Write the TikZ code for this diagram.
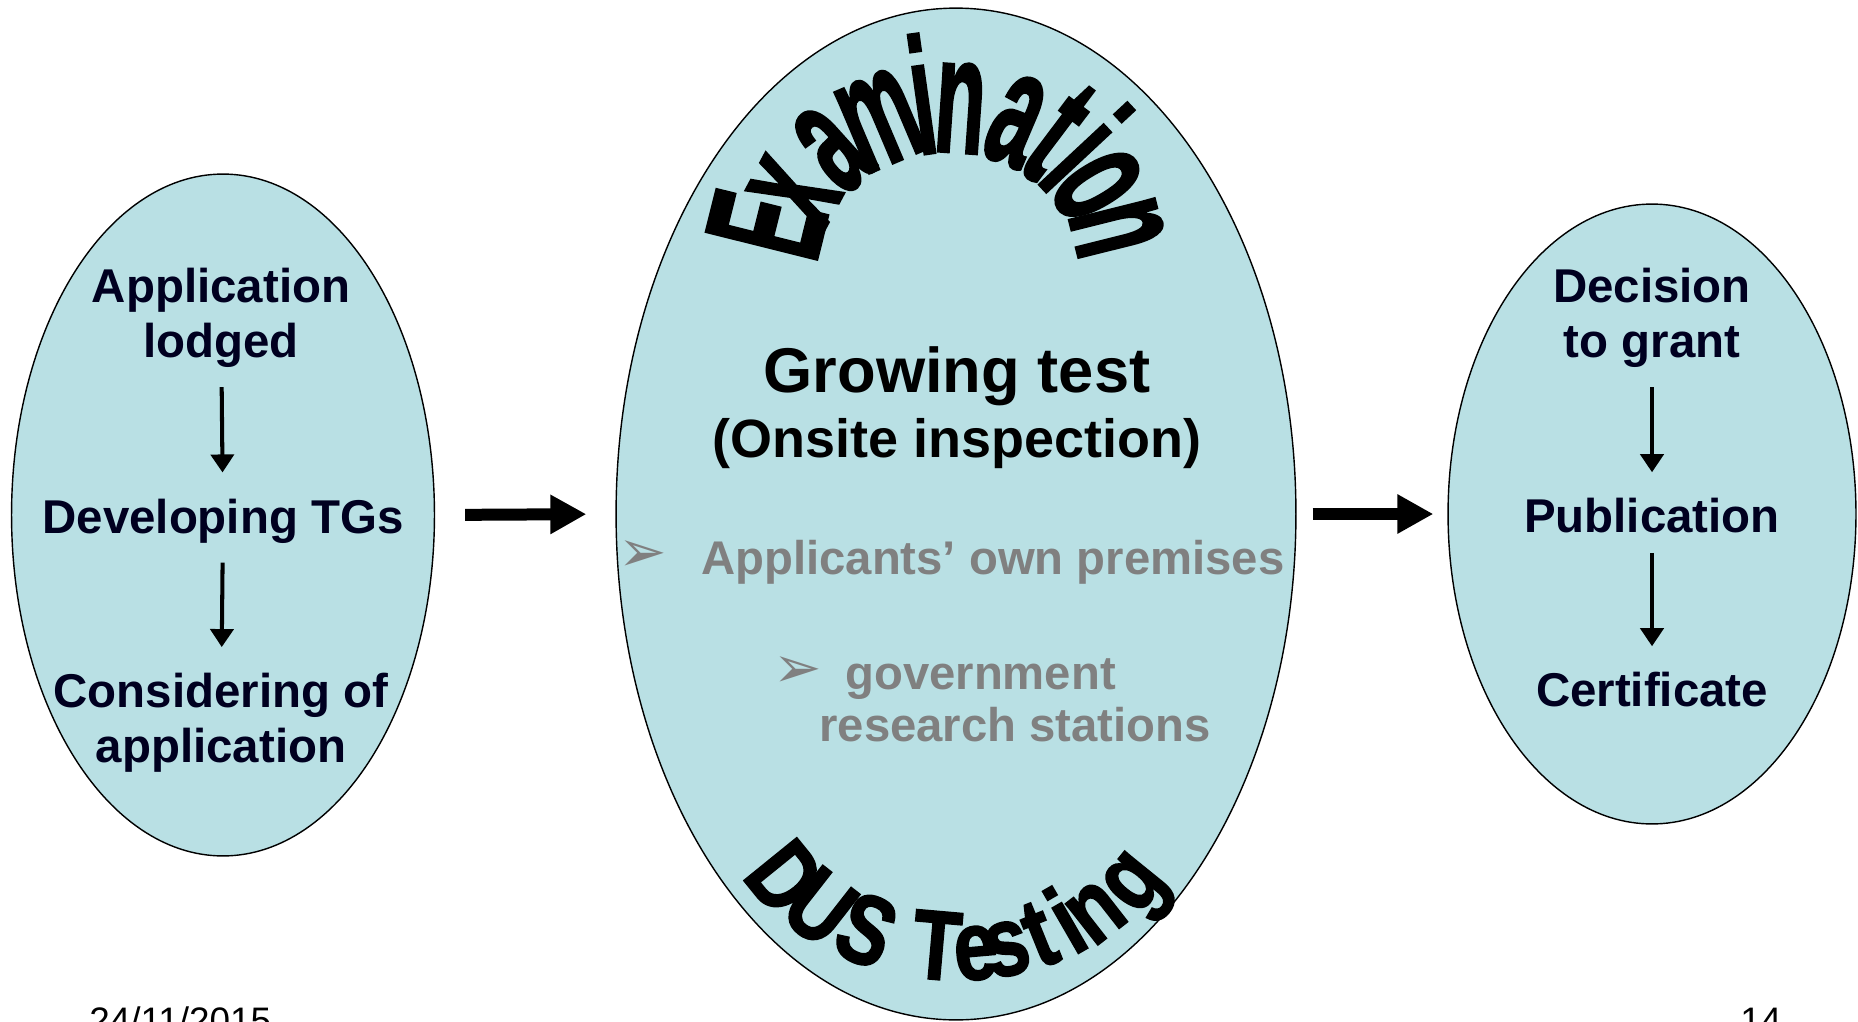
\documentclass[tikz,border=0pt]{standalone}
\usepackage{fontspec}
\setmainfont{Liberation Sans}
\newfontfamily\symfont{DejaVu Sans}
\newfontfamily\archfont[FakeBold=2]{Liberation Sans Bold}
\usetikzlibrary{shapes.geometric,arrows.meta}

\definecolor{bubfill}{RGB}{185,224,228}
\definecolor{ink}{RGB}{0,0,32}
\definecolor{greytext}{RGB}{128,128,128}

\tikzset{
	bub/.style={ellipse, draw=black, line width=0.8pt, fill=bubfill, inner sep=0pt},
	stage/.style={text=ink, font=\fontsize{27}{31.3}\selectfont\bfseries, align=center, inner sep=0pt},
	site/.style={text=greytext, font=\fontsize{26.9}{29.6}\selectfont\bfseries, anchor=base west, inner sep=0pt},
	flow/.style={-{Triangle[length=0.36cm,width=0.46cm]}, line width=2.3pt, shorten <=0.38cm, shorten >=0.52cm},
	bigflow/.style={-{Triangle[length=0.72cm,width=0.74cm]}, line width=0.24cm},
	archtop/.style={font=\fontsize{94}{94}\selectfont\archfont, anchor=base, inner sep=0pt},
	archbot/.style={font=\fontsize{56}{56}\selectfont\archfont, anchor=base, inner sep=0pt},
}

\begin{document}
\begin{tikzpicture}[x=0.02cm, y=-0.02cm]
	\fill[white] (0,0) rectangle (1858,1021);
	\useasboundingbox (0,0) rectangle (1858,1021);

	% bubbles
	\node[bub, minimum width=8.46cm, minimum height=13.64cm] (lbub) at (223,515) {};
	\node[bub, minimum width=13.6cm, minimum height=20.24cm] (mbub) at (956,514) {};
	\node[bub, minimum width=8.16cm, minimum height=12.4cm] (rbub) at (1652,514) {};

	% left bubble
	\node[stage] (lodged) at (221,318) {Application\\lodged};
	\node[stage] (tgs) at (223,521) {Developing TGs};
	\node[stage] (consider) at (221,723) {Considering of\\application};
	\draw[flow] (lodged) -- (tgs);
	\draw[flow] (tgs) -- (consider);

	% right bubble
	\node[stage] (grant) at (1652,318) {Decision\\to grant};
	\node[stage] (publ) at (1652,516) {Publication};
	\node[stage] (cert) at (1652,690) {Certificate};
	\draw[flow] (grant) -- (publ);
	\draw[flow] (publ) -- (cert);

	\draw[bigflow, shorten <=0.6cm, shorten >=0.58cm] (lbub.east) -- (mbub.west);
	\draw[bigflow, shorten <=0.32cm, shorten >=0.28cm] (mbub.east) -- (rbub.west);

	% middle bubble
	\node[font=\fontsize{36}{40}\selectfont\bfseries, anchor=base, inner sep=0pt] (grow) at (957,392) {Growing test};
	\node[font=\fontsize{30.7}{36}\selectfont\bfseries, anchor=base, inner sep=0pt] (onsite) at (957,457) {(Onsite inspection)};

	\node[site, anchor=center, font=\fontsize{33}{33}\selectfont] (mark1) at (643,556) {\symfont ➢};
	\node[site] (own) at (701,574) {Applicants’ own premises};
	\node[site, anchor=center, font=\fontsize{33}{33}\selectfont] (mark2) at (798,672) {\symfont ➢};
	\node[site] (gov) at (845,689) {government};
	\node[site] (stations) at (819,741) {research stations};

	% arched titles
	\begin{scope}[shift={(948,266)}]
	\foreach \ch/\t [count=\i] in {E/166,x/152,a/132,m/113,i/98,n/86,a/67,t/53,i/43,o/31,n/14} {
		\node[archtop, rotate=\t-90] (ex\i) at (\t:130 and -114) {\scalebox{0.5}[1]{\ch}};
	}
	\end{scope}
	\begin{scope}[shift={(956,760)}]
	\foreach \ch/\t [count=\i] in {D/219,U/232,S/246,T/265,e/275,s/283,t/292,i/300,n/308,g/321} {
		\node[archbot, rotate=\t+90] (dus\i) at (\t:254 and -220) {\scalebox{0.8}[1]{\ch}};
	}
	\end{scope}

	% footer
	\node[font=\fontsize{21}{21}\selectfont, anchor=base west, inner sep=0pt] (date) at (89,1033) {24/11/2015};
	\node[font=\fontsize{21}{21}\selectfont, anchor=base west, inner sep=0pt] (page) at (1740,1033) {14};
\end{tikzpicture}
\end{document}
